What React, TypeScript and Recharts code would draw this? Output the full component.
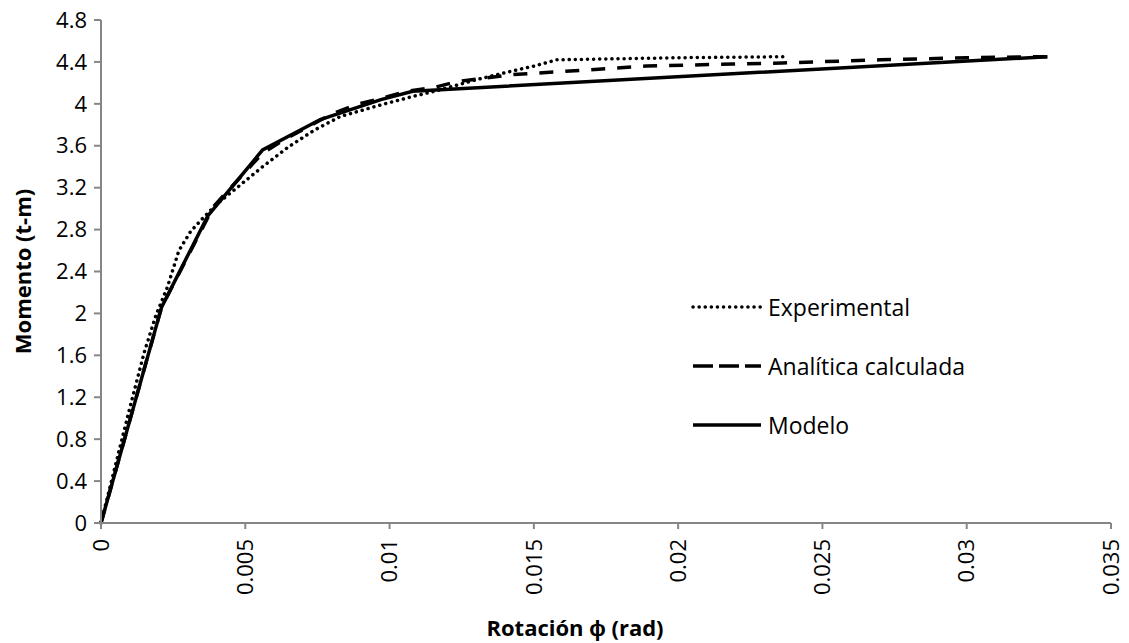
import React from "react";
import { LineChart, Line, XAxis, YAxis, Label } from "recharts";

// rotation (rad) / moment (t-m) pairs
const experimentalX = [0, 0.001, 0.0015, 0.0019, 0.0023, 0.0027, 0.0031, 0.0035, 0.004, 0.0056, 0.0065, 0.0074, 0.0083, 0.0097, 0.0108, 0.0117, 0.013, 0.0142, 0.015, 0.0158, 0.02, 0.0238];
const experimentalY = [0, 1.1, 1.63, 1.98, 2.25, 2.6, 2.78, 2.9, 3.04, 3.4, 3.59, 3.75, 3.88, 3.99, 4.07, 4.13, 4.23, 4.31, 4.36, 4.42, 4.44, 4.45];

const analiticaX = [0, 0.0021, 0.0039, 0.0056, 0.0063, 0.0079, 0.0088, 0.0097, 0.0106, 0.0116, 0.0123, 0.0143, 0.0161, 0.0189, 0.0219, 0.0236, 0.027, 0.03, 0.0328];
const analiticaY = [0, 2.06, 3.02, 3.53, 3.65, 3.89, 3.99, 4.05, 4.12, 4.16, 4.21, 4.28, 4.31, 4.36, 4.38, 4.39, 4.42, 4.44, 4.45];

const modeloX = [0, 0.0021, 0.0037, 0.0056, 0.0076, 0.0097, 0.0108, 0.0328];
const modeloY = [0, 2.06, 2.93, 3.56, 3.85, 4.04, 4.12, 4.45];

const xTicks = [0, 0.005, 0.01, 0.015, 0.02, 0.025, 0.03, 0.035];
const yTicks = [0, 0.4, 0.8, 1.2, 1.6, 2, 2.4, 2.8, 3.2, 3.6, 4, 4.4, 4.8];

const seriesNames = ["Experimental", "Analítica calculada", "Modelo"];

const toPoints = (xs: number[], ys: number[]) => xs.map((x, i) => ({ x, y: ys[i] }));

const FONT = "'Open Sans', sans-serif";
const AXIS = "#868686";

const XTick = (props: any) => {
  const { x, y, payload } = props;
  const ty = y + 8;
  return (
    <text
      x={x}
      y={ty}
      transform={`rotate(-90, ${x}, ${ty})`}
      textAnchor="end"
      dy="0.35em"
      fontSize={22}
      fontFamily={FONT}
      fill="#000"
    >
      {String(payload.value)}
    </text>
  );
};

const YTick = (props: any) => {
  const { x, y, payload } = props;
  return (
    <text x={x - 5} y={y} textAnchor="end" dy="0.35em" fontSize={22} fontFamily={FONT} fill="#000">
      {String(payload.value)}
    </text>
  );
};

const legendStyles = [
  { dash: "0.1 6", width: 3.5, cap: "round" as const },
  { dash: "20 6", width: 3.5, cap: "butt" as const },
  { dash: undefined, width: 3.5, cap: "butt" as const },
];

const LegendBox = () => (
  <div style={{ position: "absolute", left: 691, top: 277, fontFamily: FONT, fontSize: 23 }}>
    {seriesNames.map((name, i) => (
      <div key={name} style={{ display: "flex", alignItems: "center", height: 59 }}>
        <svg width={72} height={10} style={{ marginRight: 5 }}>
          <line
            x1={2}
            y1={5}
            x2={70}
            y2={5}
            stroke="#000"
            strokeWidth={legendStyles[i].width}
            strokeDasharray={legendStyles[i].dash}
            strokeLinecap={legendStyles[i].cap}
          />
        </svg>
        <span>{name}</span>
      </div>
    ))}
  </div>
);

export default function App() {
  return (
    <div style={{ position: "absolute", left: 0, top: 0, width: 1129, height: 643, background: "#fff" }}>
      <LineChart width={1129} height={643} margin={{ top: 20, right: 18, bottom: 0, left: 0 }}>
        <XAxis
          type="number"
          dataKey="x"
          domain={[0, 0.035]}
          ticks={xTicks}
          interval={0}
          height={120}
          stroke={AXIS}
          strokeWidth={2}
          tickSize={6}
          tick={<XTick />}
        >
          <Label
            content={() => (
              <text x={575} y={636} textAnchor="middle" fontSize={22} fontWeight="bold" fontFamily={FONT} fill="#000">
                Rotación ϕ (rad)
              </text>
            )}
          />
        </XAxis>
        <YAxis
          type="number"
          dataKey="y"
          domain={[0, 4.8]}
          ticks={yTicks}
          interval={0}
          width={101}
          stroke={AXIS}
          strokeWidth={2}
          tickSize={7}
          tick={<YTick />}
        >
          <Label
            content={(p: any) => {
              const vb = p.viewBox;
              const cy = vb.y + vb.height / 2;
              return (
                <text
                  x={31}
                  y={cy}
                  transform={`rotate(-90, 31, ${cy})`}
                  textAnchor="middle"
                  fontSize={22}
                  fontWeight="bold"
                  fontFamily={FONT}
                  fill="#000"
                >
                  Momento (t-m)
                </text>
              );
            }}
          />
        </YAxis>
        <Line
          data={toPoints(experimentalX, experimentalY)}
          dataKey="y"
          name={seriesNames[0]}
          type="linear"
          stroke="#000"
          strokeWidth={3.5}
          strokeDasharray="0.1 6"
          strokeLinecap="round"
          dot={false}
          isAnimationActive={false}
        />
        <Line
          data={toPoints(analiticaX, analiticaY)}
          dataKey="y"
          name={seriesNames[1]}
          type="linear"
          stroke="#000"
          strokeWidth={3.5}
          strokeDasharray="14 12"
          dot={false}
          isAnimationActive={false}
        />
        <Line
          data={toPoints(modeloX, modeloY)}
          dataKey="y"
          name={seriesNames[2]}
          type="linear"
          stroke="#000"
          strokeWidth={3.5}
          dot={false}
          isAnimationActive={false}
        />
      </LineChart>
      <LegendBox />
    </div>
  );
}
